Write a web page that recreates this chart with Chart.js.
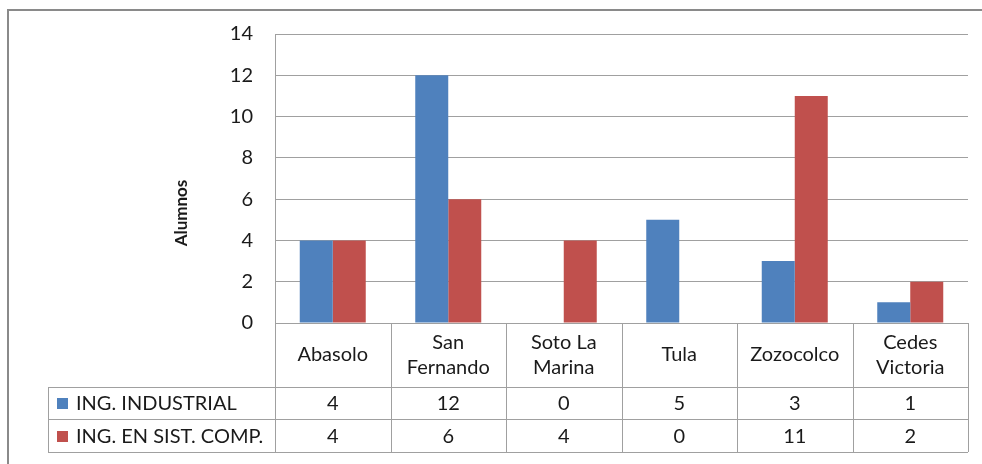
<!DOCTYPE html>
<html>
<head>
<meta charset="utf-8">
<script src="https://cdn.jsdelivr.net/npm/chart.js@4.4.1/dist/chart.umd.min.js"></script>
<style>
  html, body { margin: 0; padding: 0; background: #fff; }
  #wrap { width: 982px; height: 464px; }
</style>
</head>
<body>
<div id="wrap"><canvas id="chart" width="982" height="464"></canvas></div>
<script>
// data
const categories = [['Abasolo'], ['San', 'Fernando'], ['Soto La', 'Marina'], ['Tula'], ['Zozocolco'], ['Cedes', 'Victoria']];
const seriesNames = ['ING. INDUSTRIAL', 'ING. EN SIST. COMP.'];
const industrial = [4, 12, 0, 5, 3, 1];
const sistemas = [4, 6, 4, 0, 11, 2];
const yTicks = [0, 2, 4, 6, 8, 10, 12, 14];
const yTitle = 'Alumnos';

const BLUE = '#4F81BD';
const RED = '#C0504D';
const LINE = '#a0a0a0';
const FONT = 'Lato, "Open Sans", sans-serif';
const TXT = '#1a1a1a';

// draws the frame, axis title and the data table under the plot
const tablePlugin = {
  id: 'dataTable',
  afterDraw(chart) {
    const ctx = chart.ctx;
    const area = chart.chartArea;
    const x = chart.scales.x;
    const n = categories.length;
    const step = (area.right - area.left) / n;
    const rowTop = area.bottom;
    const row1 = rowTop + 64;
    const row2 = row1 + 32;
    const row3 = row2 + 33;
    const legendLeft = 48;

    ctx.save();
    // outer frame
    ctx.strokeStyle = '#8a8a8a';
    ctx.lineWidth = 2;
    ctx.beginPath();
    ctx.moveTo(8, 470);
    ctx.lineTo(8, 10);
    ctx.lineTo(990, 10);
    ctx.stroke();

    // table lines
    ctx.strokeStyle = LINE;
    ctx.lineWidth = 1;
    ctx.beginPath();
    for (let i = 0; i <= n; i++) {
      const px = Math.round(area.left + i * step) + 0.5;
      ctx.moveTo(px, i === 0 ? area.top : rowTop);
      ctx.lineTo(px, row3);
    }
    ctx.moveTo(legendLeft + 0.5, row1);
    ctx.lineTo(legendLeft + 0.5, row3);
    [row1, row2, row3].forEach(y => {
      ctx.moveTo(legendLeft, Math.round(y) + 0.5);
      ctx.lineTo(area.right, Math.round(y) + 0.5);
    });
    ctx.stroke();

    // category header
    ctx.fillStyle = TXT;
    ctx.font = '20px ' + FONT;
    ctx.textAlign = 'center';
    ctx.textBaseline = 'middle';
    categories.forEach((lines, i) => {
      const cx = x.getPixelForValue(i);
      const mid = (rowTop + row1) / 2;
      const lh = 25;
      lines.forEach((t, j) => {
        ctx.fillText(t, cx, mid + (j - (lines.length - 1) / 2) * lh);
      });
    });

    // series rows
    const rows = [[industrial, BLUE, row1, row2], [sistemas, RED, row2, row3]];
    rows.forEach(([vals, color, y0, y1], k) => {
      const cy = (y0 + y1) / 2;
      ctx.fillStyle = color;
      ctx.fillRect(57, Math.round(cy) - 5, 11, 11);
      ctx.fillStyle = TXT;
      ctx.textAlign = 'left';
      ctx.fillText(seriesNames[k], 76, cy + 1);
      ctx.textAlign = 'center';
      vals.forEach((v, i) => ctx.fillText(String(v), x.getPixelForValue(i), cy + 1));
    });

    // axis title
    ctx.translate(182, 213);
    ctx.rotate(-Math.PI / 2);
    ctx.font = 'bold 17px ' + FONT;
    ctx.fillText(yTitle, 0, 0);
    ctx.restore();
  }
};

new Chart(document.getElementById('chart'), {
  type: 'bar',
  data: {
    labels: categories.map(c => c.join(' ')),
    datasets: [
      { label: seriesNames[0], data: industrial, backgroundColor: BLUE },
      { label: seriesNames[1], data: sistemas, backgroundColor: RED }
    ]
  },
  options: {
    responsive: false,
    animation: false,
    events: [],
    layout: { padding: { left: 0, right: 14, top: 33, bottom: 141 } },
    datasets: { bar: { barPercentage: 1, categoryPercentage: 2 / 3.5 } },
    plugins: { legend: { display: false }, tooltip: { enabled: false } },
    scales: {
      x: {
        ticks: { display: false },
        grid: { display: false, drawTicks: false },
        border: { display: false }
      },
      y: {
        min: 0,
        max: 14,
        afterFit(s) { s.width = 275; },
        afterBuildTicks(s) { s.ticks = yTicks.map(v => ({ value: v })); },
        ticks: { padding: 22, color: TXT, font: { family: FONT, size: 20 } },
        grid: { color: LINE, drawTicks: false },
        border: { display: true, color: LINE }
      }
    }
  },
  plugins: [tablePlugin]
});
</script>
</body>
</html>
